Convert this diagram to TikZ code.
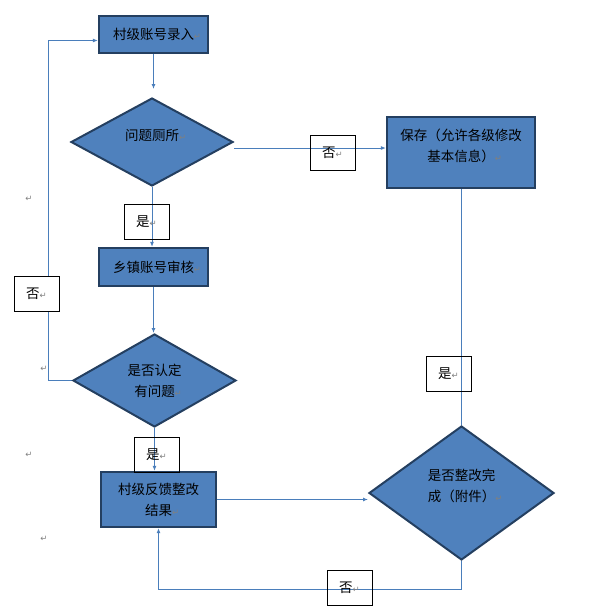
\documentclass[tikz,border=0pt]{standalone}
\usepackage{fontspec}
\newfontfamily\cjk{Noto Sans CJK SC}
\newfontfamily\dejavu{DejaVu Sans}
\usetikzlibrary{shapes.geometric,arrows.meta,backgrounds,calc}
\definecolor{fillblue}{HTML}{4F81BD}
\definecolor{edgeblue}{HTML}{243F60}
\definecolor{linkblue}{HTML}{4A7EBB}
\definecolor{retgray}{HTML}{808080}
\newcommand\retm{{\color{retgray}\dejavu\fontsize{8.5}{8.5}\selectfont ↵}}
\newcommand\retz{\rlap{\retm}}
\tikzset{
  cjkfont/.style={font=\cjk\fontsize{13.5}{21}\selectfont},
  procbox/.style={draw=edgeblue, line width=2.2pt, fill=fillblue, inner sep=0pt, cjkfont, align=center},
  decide/.style={diamond, draw=edgeblue, line width=2pt, fill=fillblue, inner sep=0pt, cjkfont, align=center},
  tag/.style={draw=black, line width=0.8pt, minimum width=45pt, minimum height=35pt, inner sep=0pt, cjkfont},
  conn/.style={draw=linkblue, line width=1pt, -{Latex[length=5pt,width=4pt]}},
  plainline/.style={draw=linkblue, line width=1pt},
  retmark/.style={inner sep=0pt}
}
\begin{document}
\begin{tikzpicture}[x=1pt,y=-1pt]
\useasboundingbox (0,0) rectangle (601,614);
% process boxes
\node[procbox, minimum width=109pt, minimum height=37pt] (b1) at (153.5,34.5) {村级账号录入\retz};
\node[procbox, minimum width=109pt, minimum height=38pt] (b2) at (153.5,267) {乡镇账号审核\retz};
\node[procbox, minimum width=115pt, minimum height=55pt] (b3) at (158.5,499.5) {村级反馈整改\\结果\retz};
\node[procbox, minimum width=148pt, minimum height=71pt] (save) at (461,152.5) {保存（允许各级修改\\基本信息）\retz\\[-6pt]};
% decisions
\node[decide, minimum width=162pt, minimum height=88pt] (d1) at (152,142) {问题厕所\retz\\[-6pt]};
\node[decide, minimum width=163pt, minimum height=93pt] (d2) at (154.5,380.5) {是否认定\\有问题\retz};
\node[decide, minimum width=185pt, minimum height=134pt] (d4) at (461.5,493) {是否整改完\\成（附件）\retz\\[-6pt]};
% tags
\node[tag] (t1) at (332.5,152.5) {否\retm};
\node[tag] (t2) at (146.5,221.5) {是\retm};
\node[tag, fill=white] (t3) at (36.5,293.5) {否\retm};
\node[tag] (t4) at (156.5,455) {是\retm};
\node[tag] (t5) at (448.5,374) {是\retm};
\node[tag] (t6) at (349.5,588) {否\retm};
% stray paragraph marks
\node[retmark] (r1) at (29,199) {\retm};
\node[retmark] (r2) at (44,369) {\retm};
\node[retmark] (r3) at (29,455) {\retm};
\node[retmark] (r4) at (44,539) {\retm};
% connectors
\begin{pgfonlayer}{background}
\draw[conn, shorten >=8pt] (b1.south) -- (b1.south |- d1.north);
\draw[conn] ([yshift=-6pt]d1.east) -- ([yshift=-6pt]d1.east -| save.west);
\draw[plainline] (d4.north |- save.south) -- (d4.north);
\draw[conn] (d1.south) -- (d1.south |- b2.north);
\draw[conn] (b2.south) -- (b2.south |- d2.north);
\draw[conn] (d2.west) -- ++(-24,0) |- ([yshift=-6pt]b1.west);
\draw[conn] (d2.south) -- (d2.south |- b3.north);
\draw[conn] (b3.east) -- (b3.east -| d4.west);
\draw[conn] (d4.south) -- ++(0,28) -| (b3.south);
\end{pgfonlayer}
\end{tikzpicture}
\end{document}
